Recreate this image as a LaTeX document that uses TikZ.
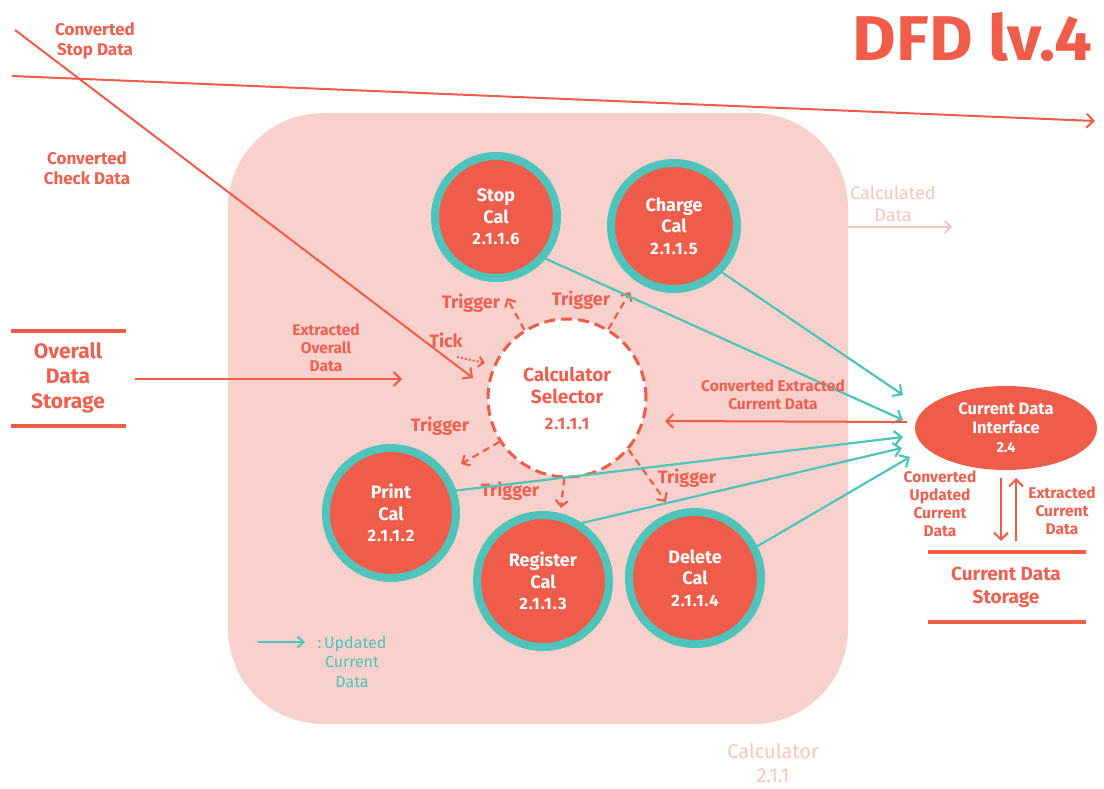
\documentclass[tikz,border=0pt]{standalone}
\usepackage{fontspec}
\setmainfont{Fira Sans}
\usetikzlibrary{arrows.meta,shapes.geometric}
\definecolor{redc}{HTML}{F05C4A}
\definecolor{labc}{HTML}{EE6050}
\definecolor{tealc}{HTML}{4EC4BA}
\definecolor{pinkbg}{HTML}{F9D1CC}
\definecolor{lpink}{HTML}{F7C6C0}
\newcommand\fsz[2]{\fontsize{#1}{#2}\selectfont}
\newcommand\numf{\fsz{16.5pt}{20pt}\addfontfeature{LetterSpace=6}}
\begin{document}
\begin{tikzpicture}[x=1pt,y=-1pt,
  calcnode/.style={circle, fill=redc, draw=tealc, line width=8pt, text=white,
     font=\bfseries\fsz{18pt}{21.5pt}, align=center, inner sep=0pt},
  redarrow/.style={draw=redc, line width=2pt, -{Straight Barb[length=7pt,width=14pt]}},
  tealarrow/.style={draw=tealc, line width=2.2pt, -{Straight Barb[length=7pt,width=14pt]}},
  trigarrow/.style={draw=redc, line width=2.2pt, dash pattern=on 7pt off 5pt, -{Straight Barb[length=6pt,width=12pt]}},
  lbl/.style={text=labc, font=\bfseries\fsz{15.5pt}{18pt}, align=center, inner sep=0pt},
  biglbl/.style={text=labc, font=\bfseries\fsz{17pt}{20pt}, align=center, inner sep=0pt},
  trig/.style={text=labc, font=\bfseries\fsz{18pt}{20pt}, inner sep=0pt},
  storeline/.style={draw=redc, line width=4pt}
]
\useasboundingbox (0,0) rectangle (1104,789);
\fill[white] (0,0) rectangle (1104,789);
% calculator process box
\fill[pinkbg, rounded corners=95pt] (228,113) rectangle (848,724);
\node[text=lpink, font=\fsz{20pt}{24pt}, align=center, inner sep=0pt] (calcname) at (773,763) {Calculator\\2.1.1};

% title
\node[anchor=north east, inner sep=0pt, text=redc] (title) at (1092,12) {\resizebox{239pt}{48pt}{\bfseries DFD lv.4}};

% external flows top
\coordinate (s1) at (12,76);
\coordinate (s2) at (1095,121);
\draw[redarrow] (s1) -- (s2);
\node[biglbl] (lstop) at (95,41) {Converted\\Stop Data};

\coordinate (c1) at (15,30);
\coordinate (c2) at (473,378);
\draw[redarrow] (c1) -- (c2);
\node[biglbl] (lcheck) at (87,168) {Converted\\Check Data};

% overall data storage
\draw[storeline] (11,331) -- (126,331);
\draw[storeline] (11,426) -- (126,426);
\node[text=labc, font=\bfseries\fsz{21pt}{25pt}, align=center, inner sep=0pt] (ods) at (68,378) {Overall\\Data\\Storage};
\coordinate (o1) at (135,379);
\coordinate (o2) at (402,379);
\draw[redarrow] (o1) -- (o2);
\node[lbl] (lover) at (326,348) {Extracted\\Overall\\Data};

% calculator selector
\node[circle, fill=white, draw=redc, line width=3pt, dash pattern=on 11pt off 6pt,
  minimum size=158pt, inner sep=0pt, align=center, text=labc,
  font=\bfseries\fsz{19pt}{22pt}] (sel) at (567,398) {Calculator\\Selector\\[4pt]\numf 2.1.1.1};

% processes
\node[calcnode, minimum size=122pt] (stop) at (496,217) {Stop\\Cal\\\numf 2.1.1.6};
\node[calcnode, minimum size=126pt] (charge) at (674,226) {Charge\\Cal\\\numf 2.1.1.5};
\node[calcnode, minimum size=130pt] (print) at (391,513) {Print\\Cal\\\numf 2.1.1.2};
\node[calcnode, minimum size=132pt] (reg) at (543,581) {Register\\Cal\\\numf 2.1.1.3};
\node[calcnode, minimum size=132pt] (del) at (695,578) {Delete\\Cal\\\numf 2.1.1.4};

% tick
\coordinate (tk1) at (457,357);
\coordinate (tk2) at (485,363);
\draw[draw=redc, line width=2pt, dotted, -{Straight Barb[length=5pt,width=10pt]}] (tk1) -- (tk2);
\node[trig] (ltick) at (446,340) {Tick};

% triggers
\coordinate (ts) at (507,298);
\coordinate (tc) at (630,292);
\coordinate (tp) at (461,464);
\coordinate (tr) at (561,508);
\coordinate (td) at (666,502);
\draw[trigarrow] (sel.122) -- (ts);
\draw[trigarrow] (sel.59) -- (tc);
\draw[trigarrow] (sel.213) -- (tp);
\draw[trigarrow] (sel.-92) -- (tr);
\draw[trigarrow] (sel.-40) -- (td);
\node[trig] (lts) at (471,303) {Trigger};
\node[trig] (ltc) at (581,300) {Trigger};
\node[trig] (ltp) at (440,426) {Trigger};
\node[trig] (ltr) at (510,491) {Trigger};
\node[trig] (ltd) at (687,478) {Trigger};

% calculated data
\coordinate (cd1) at (848,227);
\coordinate (cd2) at (952,227);
\draw[draw=lpink, line width=1.8pt, -{Straight Barb[length=6pt,width=12pt]}] (cd1) -- (cd2);
\node[text=lpink, font=\fsz{18pt}{22pt}, align=center, inner sep=0pt] (lcalc) at (893,204) {Calculated\\Data};

% current data interface
\node[ellipse, fill=redc, minimum width=182pt, minimum height=84pt, inner sep=0pt,
  text=white, align=center, font=\bfseries\fsz{16.5pt}{19pt}] (cdi) at (1006,428) {Current Data\\Interface\\\fsz{14.5pt}{18pt}2.4};

% updated current data (teal)
\coordinate (t1) at (903,420);
\coordinate (t2) at (903,395);
\coordinate (t3) at (903,437);
\coordinate (t4) at (902,448);
\coordinate (t5) at (910,457);
\draw[tealarrow] (stop.-40) -- (t1);
\draw[tealarrow] (charge.-44) -- (t2);
\draw[tealarrow] (print.19) -- (t3);
\draw[tealarrow] (reg.56) -- (t4);
\draw[tealarrow] (del.27) -- (t5);

% converted extracted current data
\coordinate (x1) at (907,422);
\coordinate (x2) at (665,421);
\draw[redarrow] (x1) -- (x2);
\node[lbl] (lcec) at (773,395) {Converted Extracted\\Current Data};

% current data storage
\coordinate (v1) at (1001,478);
\coordinate (v2) at (1001,541);
\coordinate (u1) at (1016,541);
\coordinate (u2) at (1016,478);
\draw[redarrow] (v1) -- (v2);
\draw[redarrow] (u1) -- (u2);
\node[lbl] (lcuc) at (940,504) {Converted\\Updated\\Current\\Data};
\node[lbl] (lecd) at (1062,511) {Extracted\\Current\\Data};
\draw[storeline] (928,552) -- (1086,552);
\draw[storeline] (928,622) -- (1086,622);
\node[text=labc, font=\bfseries\fsz{19pt}{23pt}, align=center, inner sep=0pt] (cds) at (1006,587) {Current Data\\Storage};

% legend
\coordinate (g1) at (258,642);
\coordinate (g2) at (305,642);
\draw[draw=tealc, line width=2pt, -{Straight Barb[length=6pt,width=11pt]}] (g1) -- (g2);
\node[text=tealc, font=\fsz{16pt}{19.5pt}, align=center, inner sep=0pt] (leg) at (352,662) {:\,Updated\\Current\\Data};
\end{tikzpicture}
\end{document}
